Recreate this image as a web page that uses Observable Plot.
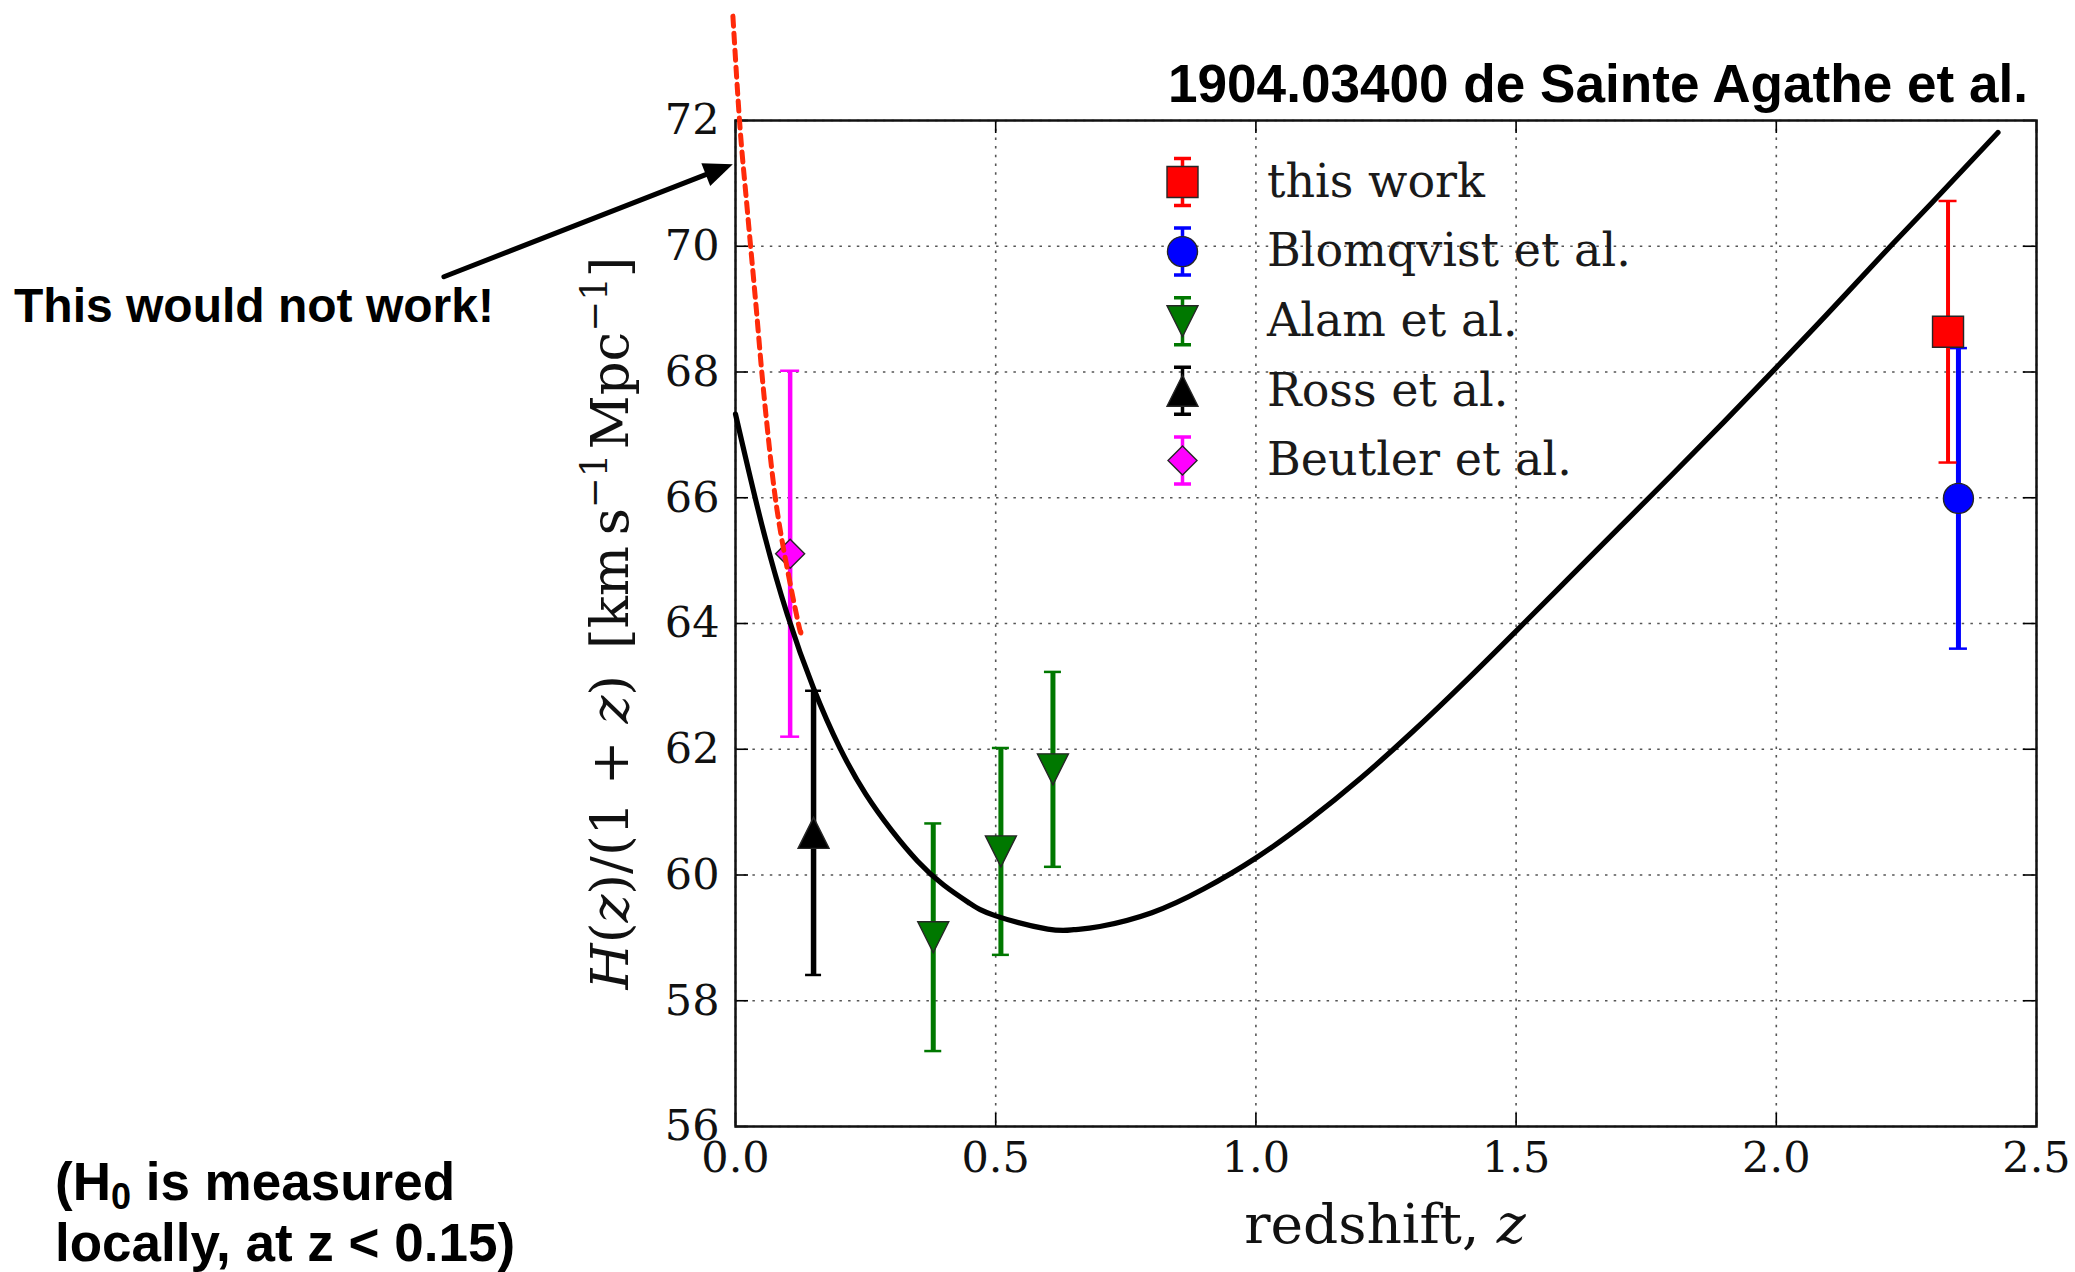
<!DOCTYPE html>
<html>
<head>
<meta charset="utf-8">
<script src="https://cdn.jsdelivr.net/npm/d3@7"></script>
<script src="https://cdn.jsdelivr.net/npm/@observablehq/plot@0.6"></script>
<style>
html, body { margin: 0; padding: 0; background: #fff; }
#chart { position: relative; width: 2075px; height: 1272px; overflow: hidden; background: #fff; }
#chart svg { display: block; }
</style>
</head>
<body>
<div id="chart"></div>
<script>
// ---------------- data ----------------
const seriesNames = ["this work", "Blomqvist et al.", "Alam et al.", "Ross et al.", "Beutler et al."];
const seriesColors = ["#ff0000", "#0000ff", "#007800", "#000000", "#ff00ff"];

const thisWorkZ = [2.33];          const thisWorkH = [68.64];            const thisWorkErr = [2.08];
const blomqvistZ = [2.35];         const blomqvistH = [65.99];           const blomqvistErr = [2.39];
const alamZ = [0.38, 0.51, 0.61];  const alamH = [59.01, 60.375, 61.68]; const alamErr = [1.81, 1.645, 1.55];
const rossZ = [0.15];              const rossH = [60.67];                const rossErr = [2.26];
const beutlerZ = [0.105];          const beutlerH = [65.11];             const beutlerErr = [2.91];

// model curve H(z)/(1+z)
const modelZ = [0, 0.05, 0.1, 0.15, 0.2, 0.25, 0.3, 0.35, 0.4, 0.45, 0.5, 0.6, 0.65, 0.7, 0.8, 0.9, 1.0, 1.1, 1.2, 1.3, 1.4, 1.5, 1.6, 1.7, 1.8, 1.9, 2.0, 2.1, 2.2, 2.3, 2.426];
const modelH = [67.33, 65.59, 64.13, 62.97, 62.03, 61.29, 60.71, 60.22, 59.84, 59.55, 59.35, 59.14, 59.13, 59.18, 59.40, 59.78, 60.27, 60.86, 61.53, 62.27, 63.06, 63.88, 64.71, 65.54, 66.37, 67.21, 68.07, 68.94, 69.83, 70.70, 71.81];

// red dotted "local H0" line
const localZ = [-0.005, 0.0077, 0.018, 0.029, 0.040, 0.0505, 0.0625, 0.0765, 0.0965, 0.1208, 0.1256];
const localH = [73.66, 72.0, 71.0, 70.0, 69.0, 68.0, 67.0, 66.0, 65.0, 64.0, 63.88];

// annotation arrow (data units)
const arrowFromZ = [-0.5603]; const arrowFromH = [69.515];
const arrowToZ = [-0.0052];   const arrowToH = [71.306];

const xTicks = [0, 0.5, 1.0, 1.5, 2.0, 2.5];
const yTicks = [56, 58, 60, 62, 64, 66, 68, 70, 72];

const titleText = "1904.03400 de Sainte Agathe et al.";
const noteText = "This would not work!";
const xLabelText = "redshift, ";

// ---------------- layout ----------------
const W = 2075, H = 1272, mL = 735, mR = 39, mT = 120, mB = 146;
const xDomain = [0, 2.5], yDomain = [56, 72];

// ---------------- marker symbols (matplotlib-like) ----------------
const half = s => Math.sqrt(s / Math.PI);
const symSquare = { draw(c, s) { const h = half(s); c.moveTo(-h, -h); c.lineTo(h, -h); c.lineTo(h, h); c.lineTo(-h, h); c.closePath(); } };
const symCircle = { draw(c, s) { const h = half(s); c.moveTo(h, 0); c.arc(0, 0, h, 0, 2 * Math.PI); c.closePath(); } };
const symTriDown = { draw(c, s) { const h = half(s); c.moveTo(0, h); c.lineTo(h, -h); c.lineTo(-h, -h); c.closePath(); } };
const symTriUp = { draw(c, s) { const h = half(s); c.moveTo(0, -h); c.lineTo(h, h); c.lineTo(-h, h); c.closePath(); } };
const symDiamond = { draw(c, s) { const h = half(s); c.moveTo(0, -h); c.lineTo(h, 0); c.lineTo(0, h); c.lineTo(-h, 0); c.closePath(); } };
const symErrbar = { draw(c, s) { const L = half(s), w = 8.5; c.moveTo(0, -L); c.lineTo(0, L); c.moveTo(-w, -L); c.lineTo(w, -L); c.moveTo(-w, L); c.lineTo(w, L); } };
// filled arrow head pointing to +x with its tip at the origin
const symHead = { draw(c, s) { const L = half(s), w = L * 0.42; c.moveTo(0, 0); c.lineTo(-L, -w); c.lineTo(-L, w); c.closePath(); } };

const series = [
  { z: thisWorkZ, h: thisWorkH, err: thisWorkErr, symbol: symSquare, r: 15.5, bw: 4, cap: 9 },
  { z: blomqvistZ, h: blomqvistH, err: blomqvistErr, symbol: symCircle, r: 15, bw: 5, cap: 9 },
  { z: alamZ, h: alamH, err: alamErr, symbol: symTriDown, r: 15.5, bw: 5, cap: 8.5 },
  { z: rossZ, h: rossH, err: rossErr, symbol: symTriUp, r: 15.5, bw: 5.5, cap: 8 },
  { z: beutlerZ, h: beutlerH, err: beutlerErr, symbol: symDiamond, r: 14.5, bw: 4.5, cap: 9.5 }
].map((s, i) => ({ ...s, name: seriesNames[i], color: seriesColors[i],
  rows: s.z.map((z, j) => ({ z, h: s.h[j], lo: s.h[j] - s.err[j], hi: s.h[j] + s.err[j] })) }));

const model = modelZ.map((z, i) => ({ z, h: modelH[i] }));
const local = localZ.map((z, i) => ({ z, h: localH[i] }));
const arrowData = arrowFromZ.map((z, i) => ({ x1: z, y1: arrowFromH[i], x2: arrowToZ[i], y2: arrowToH[i] }));

// screen angle of the arrow (degrees, clockwise) from the plot's pixel-per-unit ratios
const pxX = (W - mL - mR) / (xDomain[1] - xDomain[0]);
const pxY = (H - mT - mB) / (yDomain[1] - yDomain[0]);
const arrowAngle = a => Math.atan2(-(a.y2 - a.y1) * pxY, (a.x2 - a.x1) * pxX) * 180 / Math.PI;

// ---------------- marks ----------------
const gridStyle = { stroke: "#555", strokeOpacity: 1, strokeWidth: 1.6, strokeDasharray: "2.5,6.2" };
const tickStyle = { stroke: "#000", strokeWidth: 1.6 };
const marks = [
  Plot.ruleX(xTicks, { x: d => d, ...gridStyle }),
  Plot.ruleY(yTicks, { y: d => d, ...gridStyle }),
  // inward ticks on all four sides
  Plot.ruleX(xTicks, { x: d => d, y1: yDomain[0], y2: yDomain[0], insetTop: -13, ...tickStyle }),
  Plot.ruleX(xTicks, { x: d => d, y1: yDomain[1], y2: yDomain[1], insetBottom: -13, ...tickStyle }),
  Plot.ruleY(yTicks, { y: d => d, x1: xDomain[0], x2: xDomain[0], insetRight: -13, ...tickStyle }),
  Plot.ruleY(yTicks, { y: d => d, x1: xDomain[1], x2: xDomain[1], insetLeft: -13, ...tickStyle }),
  Plot.frame({ stroke: "#111", strokeWidth: 2.5 })
];

// error bars (Blomqvist drawn below "this work")
const drawOrder = [1, 0, 2, 3, 4];
for (const i of drawOrder) {
  const s = series[i];
  marks.push(Plot.ruleX(s.rows, { x: "z", y1: "lo", y2: "hi", stroke: s.color, strokeWidth: s.bw }));
  const caps = s.rows.flatMap(d => [{ z: d.z, y: d.lo }, { z: d.z, y: d.hi }]);
  marks.push(Plot.ruleY(caps, { y: "y", x1: "z", x2: "z", insetLeft: -s.cap, insetRight: -s.cap, stroke: s.color, strokeWidth: 2.5 }));
}
// model curve
marks.push(Plot.line(model, { x: "z", y: "h", curve: "natural", stroke: "#000", strokeWidth: 5.2 }));
// markers
for (const i of drawOrder) {
  const s = series[i];
  marks.push(Plot.dot(s.rows, { x: "z", y: "h", symbol: s.symbol, r: s.r, fill: s.color, stroke: "#262626", strokeWidth: 1.4 }));
}
// red dotted local line
marks.push(Plot.line(local, { x: "z", y: "h", curve: "natural", stroke: "#ff2a0a", strokeWidth: 5, strokeDasharray: "10,7" }));
// annotation arrow: shaft + filled head
marks.push(Plot.arrow(arrowData, { x1: "x1", y1: "y1", x2: "x2", y2: "y2", stroke: "#000", strokeWidth: 5, headLength: 0, insetEnd: 16 }));
marks.push(Plot.dot(arrowData, { x: "x2", y: "y2", symbol: symHead, r: 29, fill: "#000", stroke: "none", rotate: arrowAngle(arrowData[0]) }));

// legend inside the frame
series.forEach((s, i) => {
  const dy = 61.5 + i * 69.6;
  marks.push(Plot.dot([s.name], { frameAnchor: "top-left", dx: 447, dy, symbol: symErrbar, r: 23.5, stroke: s.color, strokeWidth: 3.5, fill: "none" }));
  marks.push(Plot.dot([s.name], { frameAnchor: "top-left", dx: 447, dy, symbol: s.symbol, r: s.r, fill: s.color, stroke: "#262626", strokeWidth: 1.4 }));
  marks.push(Plot.text([s.name], { frameAnchor: "top-left", dx: 531.5, dy, text: d => d, textAnchor: "start", lineAnchor: "middle", fontSize: 46, fontFamily: "DejaVu Serif", fill: "#1a1a1a" }));
});

const plot = Plot.plot({
  width: W,
  height: H,
  marginLeft: mL,
  marginRight: mR,
  marginTop: mT,
  marginBottom: mB,
  style: { fontFamily: "DejaVu Serif", fontSize: "43px", color: "#111", background: "#fff", overflow: "visible" },
  x: { domain: xDomain, ticks: xTicks, tickFormat: d3.format(".1f"), tickSize: 0, tickPadding: 15, label: null },
  y: { domain: yDomain, ticks: yTicks, tickFormat: d3.format("d"), tickSize: 0, tickPadding: 16, label: null },
  marks
});
document.getElementById("chart").appendChild(plot);

// ---------------- text annotations ----------------
const svg = d3.select(plot.tagName.toLowerCase() === "svg" ? plot : plot.querySelector("svg"));
const g = svg.append("g").attr("class", "annotations").attr("fill", "#000").attr("text-anchor", "start");
const sans = "'Liberation Sans', Arial, Helvetica, sans-serif";

g.append("text").attr("x", 1168).attr("y", 102).attr("text-anchor", "start")
  .attr("font-family", sans).attr("font-weight", "bold").attr("font-size", 54)
  .attr("textLength", 860).attr("lengthAdjust", "spacingAndGlyphs")
  .text(titleText);

g.append("text").attr("x", 14).attr("y", 322).attr("text-anchor", "start")
  .attr("font-family", sans).attr("font-weight", "bold").attr("font-size", 48)
  .text(noteText);

const n1 = g.append("text").attr("x", 55).attr("y", 1200).attr("text-anchor", "start")
  .attr("font-family", sans).attr("font-weight", "bold").attr("font-size", 53);
n1.append("tspan").text("(H");
n1.append("tspan").attr("font-size", 36).attr("dy", 9).text("0");
n1.append("tspan").attr("dy", -9).text(" is measured");
g.append("text").attr("x", 55).attr("y", 1261).attr("text-anchor", "start")
  .attr("font-family", sans).attr("font-weight", "bold").attr("font-size", 53)
  .text("locally, at z < 0.15)");

// y axis label
const yl = g.append("text").attr("transform", "translate(628,623) rotate(-90)")
  .attr("text-anchor", "middle").attr("font-family", "DejaVu Serif").attr("font-size", 53).attr("fill", "#111");
yl.append("tspan").attr("font-style", "italic").text("H");
yl.append("tspan").text("(");
yl.append("tspan").attr("font-style", "italic").text("z");
yl.append("tspan").text(")/(1 + ");
yl.append("tspan").attr("font-style", "italic").text("z");
yl.append("tspan").text(")");
yl.append("tspan").attr("dx", 26).text("[km\u2009s");
yl.append("tspan").attr("font-size", 37).attr("dy", -21).text("\u22121");
yl.append("tspan").attr("dy", 21).attr("dx", 4).text("Mpc");
yl.append("tspan").attr("font-size", 37).attr("dy", -21).text("\u22121");
yl.append("tspan").attr("dy", 21).text("]");

// x axis label
const xl = g.append("text").attr("x", 1385).attr("y", 1243)
  .attr("text-anchor", "middle").attr("font-family", "DejaVu Serif").attr("font-size", 55).attr("fill", "#111");
xl.append("tspan").text(xLabelText);
xl.append("tspan").attr("font-style", "italic").text("z");
</script>
</body>
</html>
